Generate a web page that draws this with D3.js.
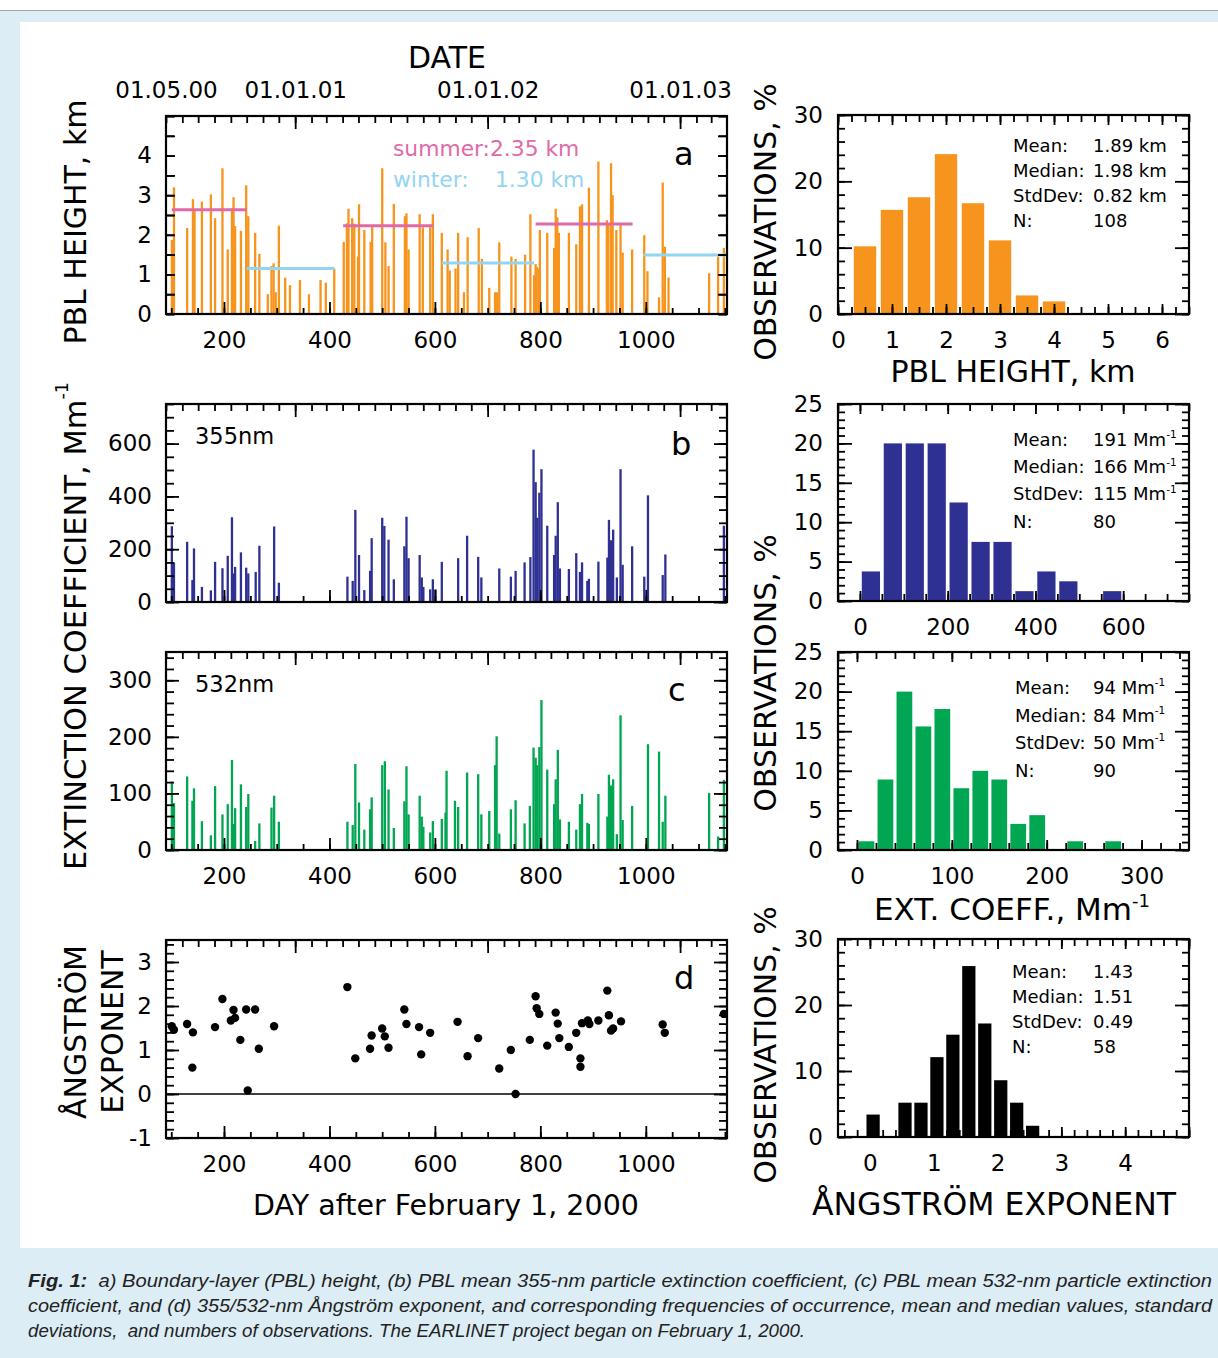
<!DOCTYPE html>
<html>
<head>
<meta charset="utf-8">
<script src="https://cdn.jsdelivr.net/npm/d3@7"></script>
<style>
    body { margin: 0; background: #fff; }
    svg text { font-family: "DejaVu Sans", "Liberation Sans", sans-serif; }
    svg text.cap { font-family: "Liberation Sans", Arial, sans-serif; font-style: italic; }
</style>
</head>
<body>
<script>
// values (day after Feb 1, 2000)
const dateTickDays = [90, 335, 700, 1065];
const dateTickLabels = ['01.05.00', '01.01.01', '01.01.02', '01.01.03'];

const pblDay = [101,105,130,141,144,158,175,183,197,207,215,218,221,232,242,246,259,267,283,290,294,298,304,316,325,344,361,383,393,409,427,433,436,443,447,454,456,466,478,481,500,506,512,522,543,546,550,571,577,591,596,613,624,628,639,644,655,662,683,689,703,714,718,722,745,753,771,781,788,791,793,797,799,813,826,829,832,835,854,868,875,879,892,910,926,929,934,937,944,952,956,974,997,1003,1025,1032,1036,1043,1120,1137,1148];
const pblKm = [1.87,3.2,2.17,2.9,2.64,2.84,3.02,2.42,3.68,1.63,2.66,2.95,2.22,2.1,3.25,2.47,2.05,1.52,0.5,1.21,1.28,0.55,2.23,0.92,0.73,0.86,0.5,0.86,0.79,1.15,1.82,2.29,2.66,2.42,2.28,1.45,2.77,2.12,1.82,2.2,3.68,1.81,1.21,2.78,2.47,2.54,1.63,2.52,2.19,2.19,2.52,2.05,1.63,1.1,1.15,2.05,0.55,1.94,2.17,1.39,0.66,0.55,0.55,1.81,1.45,1.39,1.5,2.52,0.98,1.26,1.19,1.15,2.12,2.05,1.67,2.66,2.44,2.05,2.05,1.76,2.72,2.77,3.19,3.85,2.37,2.27,3.81,3.0,2.12,2.28,1.55,1.63,1.99,1.08,0.42,3.32,1.7,0.92,1.03,1.45,1.67];

const seasonStart = [101, 243, 426, 613, 791, 996];
const seasonEnd = [243, 410, 597, 788, 975, 1154];
const seasonMean = [2.63, 1.15, 2.23, 1.29, 2.27, 1.49];
const seasonName = ['summer', 'winter', 'summer', 'winter', 'summer', 'winter'];

const ext355Day = [101,105,130,140,143,158,175,183,197,207,215,218,221,232,242,246,260,267,295,304,434,444,449,456,466,477,480,500,504,512,522,542,546,550,571,575,578,591,596,601,613,644,661,682,688,722,744,753,770,781,787,791,794,798,802,813,826,829,833,837,854,868,875,879,889,892,910,927,930,934,938,945,952,956,974,997,1004,1032,1037,1148];
const ext355 = [287,150,228,83,203,57,44,152,128,175,321,108,133,188,130,108,114,213,286,73,96,80,349,178,45,118,242,319,288,236,86,211,323,166,178,93,57,48,86,48,152,166,251,171,93,127,96,118,150,170,577,454,319,414,503,289,178,251,378,127,125,185,114,150,80,88,153,168,311,234,274,93,503,141,211,96,404,102,180,289];

const ext532Day = [101,105,130,140,143,158,175,183,197,207,215,218,221,232,242,246,259,267,290,295,304,434,444,449,456,466,477,480,500,505,512,522,542,546,550,571,575,578,591,596,613,620,622,638,644,661,682,688,703,714,717,722,744,753,770,780,787,791,794,798,802,813,826,829,833,837,854,868,875,879,889,892,910,927,930,934,938,945,952,956,974,1004,1025,1032,1037,1120,1137,1148];
const ext532 = [121,83,130,87,109,51,26,113,63,81,159,46,74,116,76,99,16,47,75,96,50,50,44,152,84,36,72,93,150,157,107,39,86,148,63,96,59,41,31,51,55,66,140,87,76,137,134,63,69,150,201,29,72,88,47,78,181,163,150,182,265,142,81,125,177,54,50,36,81,99,48,46,99,59,133,114,125,28,238,53,78,187,174,50,96,101,24,124];

const angDay = [101,105,130,140,141,183,197,213,218,221,231,242,245,259,266,295,434,449,477,480,500,505,512,542,546,570,574,591,643,662,682,722,744,753,780,791,793,798,813,829,833,836,854,868,876,876,879,890,893,910,927,930,934,938,953,1032,1036,1148];
const angExp = [1.54,1.46,1.59,0.60,1.40,1.52,2.16,1.67,1.91,1.73,1.23,1.92,0.08,1.92,1.03,1.54,2.43,0.81,1.03,1.33,1.49,1.31,1.05,1.92,1.59,1.52,0.9,1.39,1.64,0.86,1.27,0.58,1.0,0.0,1.23,2.22,1.95,1.82,1.1,1.85,1.6,1.27,1.07,1.39,0.81,0.62,1.61,1.67,1.59,1.67,2.35,1.79,1.44,1.49,1.65,1.58,1.39,1.82];

// histograms: bin centres and % of observations
const pblBin = [0.5, 1, 1.5, 2, 2.5, 3, 3.5, 4];
const pblPct = [10.2, 15.7, 17.6, 24.1, 16.7, 11.1, 2.8, 1.9];
const ext355Bin = [25, 75, 125, 175, 225, 275, 325, 375, 425, 475, 575];
const ext355Pct = [3.75, 20, 20, 20, 12.5, 7.5, 7.5, 1.25, 3.75, 2.5, 1.25];
const ext532Bin = [10, 30, 50, 70, 90, 110, 130, 150, 170, 190, 230, 270];
const ext532Pct = [1.1, 8.9, 20, 15.6, 17.8, 7.8, 10, 8.9, 3.3, 4.4, 1.1, 1.1];
const angBin = [0.05, 0.55, 0.8, 1.05, 1.3, 1.55, 1.8, 2.05, 2.3, 2.55];
const angPct = [3.4, 5.2, 5.2, 12.1, 15.5, 25.9, 17.2, 8.6, 5.2, 1.7];

const statNames = ['Mean:', 'Median:', 'StdDev:', 'N:'];
const pblStats = ['1.89 km', '1.98 km', '0.82 km', '108'];
const ext355Stats = ['191 Mm^-1', '166 Mm^-1', '115 Mm^-1', '80'];
const ext532Stats = ['94 Mm^-1', '84 Mm^-1', '50 Mm^-1', '90'];
const angStats = ['1.43', '1.51', '0.49', '58'];

const W = 1218, H = 1358;
const svg = d3.select('body').append('svg').attr('width', W).attr('height', H);

// page backdrop
svg.append('rect').attr('width', W).attr('height', H).attr('fill', '#fff');
svg.append('rect').attr('x', 0).attr('y', 10).attr('width', W).attr('height', H - 10).attr('fill', '#dcedf5');
svg.append('line').attr('x1', 0).attr('x2', W).attr('y1', 10.5).attr('y2', 10.5).attr('stroke', '#9aa').attr('stroke-width', 1);
svg.append('rect').attr('x', 20).attr('y', 22).attr('width', W - 20).attr('height', 1226).attr('fill', '#fff');

const LX = [166, 727], RX = [838, 1189];
const rowsL = [[116, 314], [404, 602], [652, 850], [940, 1138]];
const rowsR = [[115, 314], [404, 601], [652, 850], [939, 1137]];
const num = d => String(d);   // plain hyphen for negatives, as in the original

function steps(lo, hi, step) {
    const out = [];
    for (let k = Math.ceil(lo / step - 1e-6); k * step <= hi + 1e-6; k++) out.push(+(k * step).toFixed(6));
    return out;
}

function tickSet(g, axis, scale, vals, len, tx, ty) {
    g.append('g')
        .attr('transform', `translate(${tx},${ty})`)
        .call(axis(scale).tickValues(vals).tickSize(-len).tickFormat(''))
        .call(s => s.select('.domain').remove())
        .selectAll('line').attr('stroke', '#000').attr('stroke-width', 1.8);
}

function labels(g, axis, scale, vals, fmt, pad, tx, ty, size) {
    const a = g.append('g')
        .attr('transform', `translate(${tx},${ty})`)
        .call(axis(scale).tickValues(vals).tickSize(0).tickPadding(pad).tickFormat(fmt));
    a.select('.domain').remove();
    a.selectAll('text').attr('font-size', size).attr('fill', '#000');
}

function box(g, x, y) {
    const [x0, x1] = x.range(), [y0, y1] = y.range();
    g.append('rect').attr('x', x0).attr('y', y1).attr('width', x1 - x0).attr('height', y0 - y1)
        .attr('fill', 'none').attr('stroke', '#000').attr('stroke-width', 2.2);
}

function supText(g, x, y, size, body, sup, attrs) {
    const t = g.append('text').attr('x', x).attr('y', y).attr('font-size', size);
    Object.entries(attrs || {}).forEach(([k, v]) => t.attr(k, v));
    t.append('tspan').text(body);
    if (sup) t.append('tspan').attr('dy', -size * 0.42).attr('font-size', size * 0.58).text(sup);
    return t;
}

// ---------- left: time series ----------
const dayX = d3.scaleLinear().domain([90, 1154]).range(LX);
const t0 = Date.UTC(2000, 1, 1), DAY = 864e5;
const dateX = d3.scaleUtc().domain(dayX.domain().map(d => new Date(t0 + d * DAY))).range(LX);
const months = d3.utcMonth.range(dateX.domain()[0], dateX.domain()[1]);

const leftPanels = [
    {domain: [0, 5], yMinor: 0.5, yMajor: 0.5, yMajorLen: 9, yLabels: [0, 1, 2, 3, 4], day: pblDay, val: pblKm, color: '#f7941d', letter: 'a', letterXY: [674, 165], xLabels: true},
    {domain: [0, 750], yMinor: 50, yMajor: 200, yMajorLen: 13, yLabels: [0, 200, 400, 600], day: ext355Day, val: ext355, color: '#2e3192', letter: 'b', letterXY: [671, 455], tag: '355nm'},
    {domain: [0, 350], yMinor: 20, yMajor: 100, yMajorLen: 13, yLabels: [0, 100, 200, 300], day: ext532Day, val: ext532, color: '#00a651', letter: 'c', letterXY: [668, 701], tag: '532nm', xLabels: true},
    {domain: [-1, 3.5], yMinor: 0.2, yMajor: 1, yMajorLen: 13, yLabels: [-1, 0, 1, 2, 3], day: angDay, val: angExp, dots: true, letter: 'd', letterXY: [674, 989], xLabels: true}
];

leftPanels.forEach((p, r) => {
    const [top, bot] = rowsL[r];
    const y = d3.scaleLinear().domain(p.domain).range([bot, top]);
    const g = svg.append('g');
    const idx = d3.range(p.day.length);

    if (p.dots) {
        g.append('line').attr('x1', LX[0]).attr('x2', LX[1]).attr('y1', y(0)).attr('y2', y(0))
            .attr('stroke', '#000').attr('stroke-width', 1.3);
        g.selectAll('circle').data(idx).join('circle')
            .attr('cx', i => dayX(p.day[i])).attr('cy', i => y(p.val[i])).attr('r', 4.2).attr('fill', '#000');
    } else {
        g.selectAll('rect.bar').data(idx).join('rect').attr('class', 'bar')
            .attr('x', i => dayX(p.day[i]) - 1.1).attr('width', 2.3)
            .attr('y', i => y(p.val[i])).attr('height', i => y(0) - y(p.val[i]))
            .attr('fill', p.color);
    }

    if (r === 0) {
        // seasonal means
        const col = n => n === 'summer' ? '#e06aa8' : '#93d5f0';
        g.selectAll('line.season').data(d3.range(seasonMean.length)).join('line').attr('class', 'season')
            .attr('x1', i => dayX(seasonStart[i])).attr('x2', i => dayX(seasonEnd[i]))
            .attr('y1', i => y(seasonMean[i])).attr('y2', i => y(seasonMean[i]))
            .attr('stroke', i => col(seasonName[i])).attr('stroke-width', 3);
        g.append('text').attr('x', 393).attr('y', 156).attr('font-size', 21.8).attr('fill', '#e06aa8').text('summer:2.35 km');
        g.append('text').attr('x', 393).attr('y', 187).attr('font-size', 21.8).attr('fill', '#93d5f0').text('winter:');
        g.append('text').attr('x', 495).attr('y', 187).attr('font-size', 21.8).attr('fill', '#93d5f0').text('1.30 km');
    }

    tickSet(g, d3.axisBottom, dayX, steps(90, 1154, 50), 6, 0, bot);
    tickSet(g, d3.axisBottom, dayX, steps(90, 1154, 200), 12, 0, bot);
    tickSet(g, d3.axisTop, dateX, months, 7, 0, top);
    tickSet(g, d3.axisTop, dateX, months.filter(m => m.getUTCMonth() === 0), 13, 0, top);
    tickSet(g, d3.axisLeft, y, steps(p.domain[0], p.domain[1], p.yMinor), 8, LX[0], 0);
    tickSet(g, d3.axisLeft, y, steps(p.domain[0], p.domain[1], p.yMajor), p.yMajorLen, LX[0], 0);
    tickSet(g, d3.axisRight, y, steps(p.domain[0], p.domain[1], p.yMinor), 8, LX[1], 0);
    tickSet(g, d3.axisRight, y, steps(p.domain[0], p.domain[1], p.yMajor), p.yMajorLen, LX[1], 0);
    box(g, dayX, y);

    labels(g, d3.axisLeft, y, p.yLabels, num, 14, LX[0], 0, 23);
    if (p.xLabels) labels(g, d3.axisBottom, dayX, [200, 400, 600, 800, 1000], num, 18, 0, bot, 23);
    if (r === 0) labels(g, d3.axisTop, dayX, dateTickDays, (d, i) => dateTickLabels[i], 18, 0, top, 23);

    g.append('text').attr('x', p.letterXY[0]).attr('y', p.letterXY[1]).attr('font-size', 32).text(p.letter);
    if (p.tag) g.append('text').attr('x', 195).attr('y', top + 40).attr('font-size', 22.5).text(p.tag);
});

// ---------- right: histograms ----------
const histPanels = [
    {xDom: [0, 6.5], yDom: [0, 30], bins: pblBin, pct: pblPct, bw: 0.5, color: '#f7941d', xMinor: 0.25, xMajor: 1, yMinor: 2, yMajor: 10, xLabels: [0, 1, 2, 3, 4, 5, 6], stats: pblStats, statXY: [1013, 152], statDy: 25},
    {xDom: [-50, 750], yDom: [0, 25], bins: ext355Bin, pct: ext355Pct, bw: 50, color: '#2e3192', xMinor: 50, xMajor: 200, yMinor: 1, yMajor: 5, xLabels: [0, 200, 400, 600], stats: ext355Stats, statXY: [1013, 446], statDy: 27.2},
    {xDom: [-20, 350], yDom: [0, 25], bins: ext532Bin, pct: ext532Pct, bw: 20, color: '#00a651', xMinor: 20, xMajor: 100, yMinor: 1, yMajor: 5, xLabels: [0, 100, 200, 300], stats: ext532Stats, statXY: [1015, 694], statDy: 27.5},
    {xDom: [-0.5, 5], yDom: [0, 30], bins: angBin, pct: angPct, bw: 0.25, color: '#000', xMinor: 0.2, xMajor: 1, yMinor: 2, yMajor: 10, xLabels: [0, 1, 2, 3, 4], stats: angStats, statXY: [1012, 978], statDy: 25}
];

histPanels.forEach((p, r) => {
    const [top, bot] = rowsR[r];
    const x = d3.scaleLinear().domain(p.xDom).range(RX);
    const y = d3.scaleLinear().domain(p.yDom).range([bot, top]);
    const g = svg.append('g');
    const half = p.bw * 0.415;

    g.selectAll('rect.hb').data(d3.range(p.bins.length)).join('rect').attr('class', 'hb')
        .attr('x', i => x(p.bins[i] - half)).attr('width', i => x(p.bins[i] + half) - x(p.bins[i] - half))
        .attr('y', i => y(p.pct[i])).attr('height', i => y(0) - y(p.pct[i]))
        .attr('fill', p.color);

    const xm = steps(p.xDom[0], p.xDom[1], p.xMinor), xM = steps(p.xDom[0], p.xDom[1], p.xMajor);
    const ym = steps(p.yDom[0], p.yDom[1], p.yMinor), yM = steps(p.yDom[0], p.yDom[1], p.yMajor);
    tickSet(g, d3.axisBottom, x, xm, 7, 0, bot);
    tickSet(g, d3.axisBottom, x, xM, 10, 0, bot);
    tickSet(g, d3.axisTop, x, xm, 7, 0, top);
    tickSet(g, d3.axisTop, x, xM, 10, 0, top);
    tickSet(g, d3.axisLeft, y, ym, 7, RX[0], 0);
    tickSet(g, d3.axisLeft, y, yM, 14, RX[0], 0);
    tickSet(g, d3.axisRight, y, ym, 7, RX[1], 0);
    tickSet(g, d3.axisRight, y, yM, 14, RX[1], 0);
    box(g, x, y);

    labels(g, d3.axisLeft, y, yM, num, 15, RX[0], 0, 23);
    labels(g, d3.axisBottom, x, p.xLabels, num, 18, 0, bot, 23);

    const [sx, sy] = p.statXY;
    statNames.forEach((n, i) => {
        g.append('text').attr('x', sx).attr('y', sy + i * p.statDy).attr('font-size', 18).text(n);
        const [body, sup] = p.stats[i].split('^');
        supText(g, 1093, sy + i * p.statDy, 18, body, sup);
    });
});

// ---------- axis titles ----------
function vTitle(x, y, body, sup, size) {
    const t = supText(svg, 0, 0, size, body, sup, {'text-anchor': 'middle', 'dominant-baseline': 'central'});
    t.attr('transform', `translate(${x},${y}) rotate(-90)`);
}
vTitle(75, 222, 'PBL HEIGHT, km', null, 30);
vTitle(75, 626, 'EXTINCTION COEFFICIENT, Mm', '-1', 30.5);
vTitle(75, 1032, 'ÅNGSTRÖM', null, 30);
vTitle(112, 1032, 'EXPONENT', null, 30);
vTitle(765, 222, 'OBSERVATIONS, %', null, 30);
vTitle(765, 673, 'OBSERVATIONS, %', null, 30);
vTitle(765, 1045, 'OBSERVATIONS, %', null, 30);

supText(svg, 447, 68, 30, 'DATE', null, {'text-anchor': 'middle'});
supText(svg, 446, 1215, 28.5, 'DAY after February 1, 2000', null, {'text-anchor': 'middle'});
supText(svg, 1013, 382, 30, 'PBL HEIGHT, km', null, {'text-anchor': 'middle'});
supText(svg, 1012, 920, 31, 'EXT. COEFF., Mm', '-1', {'text-anchor': 'middle'});
supText(svg, 994, 1215, 31.5, 'ÅNGSTRÖM EXPONENT', null, {'text-anchor': 'middle'});

// ---------- caption ----------
const capLines = [
    [['Fig. 1:', true], ['  a) Boundary-layer (PBL) height, (b) PBL mean 355-nm particle extinction coefficient, (c) PBL mean 532-nm particle extinction', false]],
    [['coefficient, and (d) 355/532-nm Ångström exponent, and corresponding frequencies of occurrence, mean and median values, standard', false]],
    [['deviations,  and numbers of observations. The EARLINET project began on February 1, 2000.', false]]
];
const capLen = [1184, 1184, 777];
capLines.forEach((line, i) => {
    const t = svg.append('text').attr('class', 'cap').attr('x', 28).attr('y', 1287 + i * 25)
        .attr('font-size', 18).attr('fill', '#222')
        .attr('textLength', capLen[i]).attr('lengthAdjust', 'spacingAndGlyphs')
        .attr('xml:space', 'preserve');
    line.forEach(([s, bold]) => t.append('tspan').attr('font-weight', bold ? 'bold' : 'normal').text(s));
});
</script>
</body>
</html>
